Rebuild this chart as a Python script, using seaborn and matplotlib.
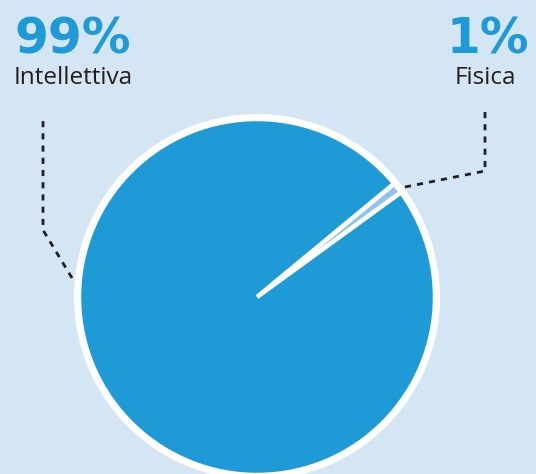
import matplotlib
matplotlib.use("Agg")
import matplotlib.pyplot as plt
import seaborn as sns
from matplotlib.patches import Circle

# Disability type shares
categories = ["Fisica", "Intellettiva"]
shares = [1, 99]
pct_labels = ["1%", "99%"]

BG = "#d4e5f4"
BLUE = "#1e9ad6"
LIGHT = "#8fc3ea"
INK = "#231f20"

sns.set_theme(style="white")
plt.rcParams["font.family"] = ["Open Sans", "DejaVu Sans"]

W, H = 536, 474
fig = plt.figure(figsize=(W / 100, H / 100), dpi=100, facecolor=BG)
ax = fig.add_axes([0, 0, 1, 1])
ax.set_facecolor(BG)

cx, cy, r = 257, H - 297, 178

# white rim behind the pie
ax.add_patch(Circle((cx, cy), r + 5, facecolor="white", edgecolor="none", zorder=1))
wedges, _ = ax.pie(shares, colors=[LIGHT, BLUE], startangle=36, counterclock=True,
                   center=(cx, cy), radius=r, frame=True,
                   wedgeprops=dict(edgecolor="white", linewidth=3.2, zorder=2))
ax.set_xlim(0, W)
ax.set_ylim(0, H)
ax.set_aspect("equal")
ax.axis("off")

# leader lines
dash = dict(color=INK, lw=2.0, dashes=(2.2, 2.2), solid_capstyle="butt", zorder=3)
ax.plot([405, 485, 485], [H - 187, H - 171, H - 110], **dash)
ax.plot([72, 43, 43], [H - 278, H - 230, H - 117], **dash)

# labels
pct_font = dict(color=BLUE, fontsize=35, fontweight="bold", family="DejaVu Sans",
                ha="center", va="baseline", zorder=4)
name_font = dict(color=INK, fontsize=17.5, ha="center", va="baseline", zorder=4)
ax.text(72.5, H - 53, pct_labels[1], **pct_font)
ax.text(73, H - 84, categories[1], **name_font)
ax.text(487.5, H - 53, pct_labels[0], **pct_font)
ax.text(485.5, H - 84, categories[0], **name_font)

fig.savefig("out.png", dpi=100, facecolor=BG)
